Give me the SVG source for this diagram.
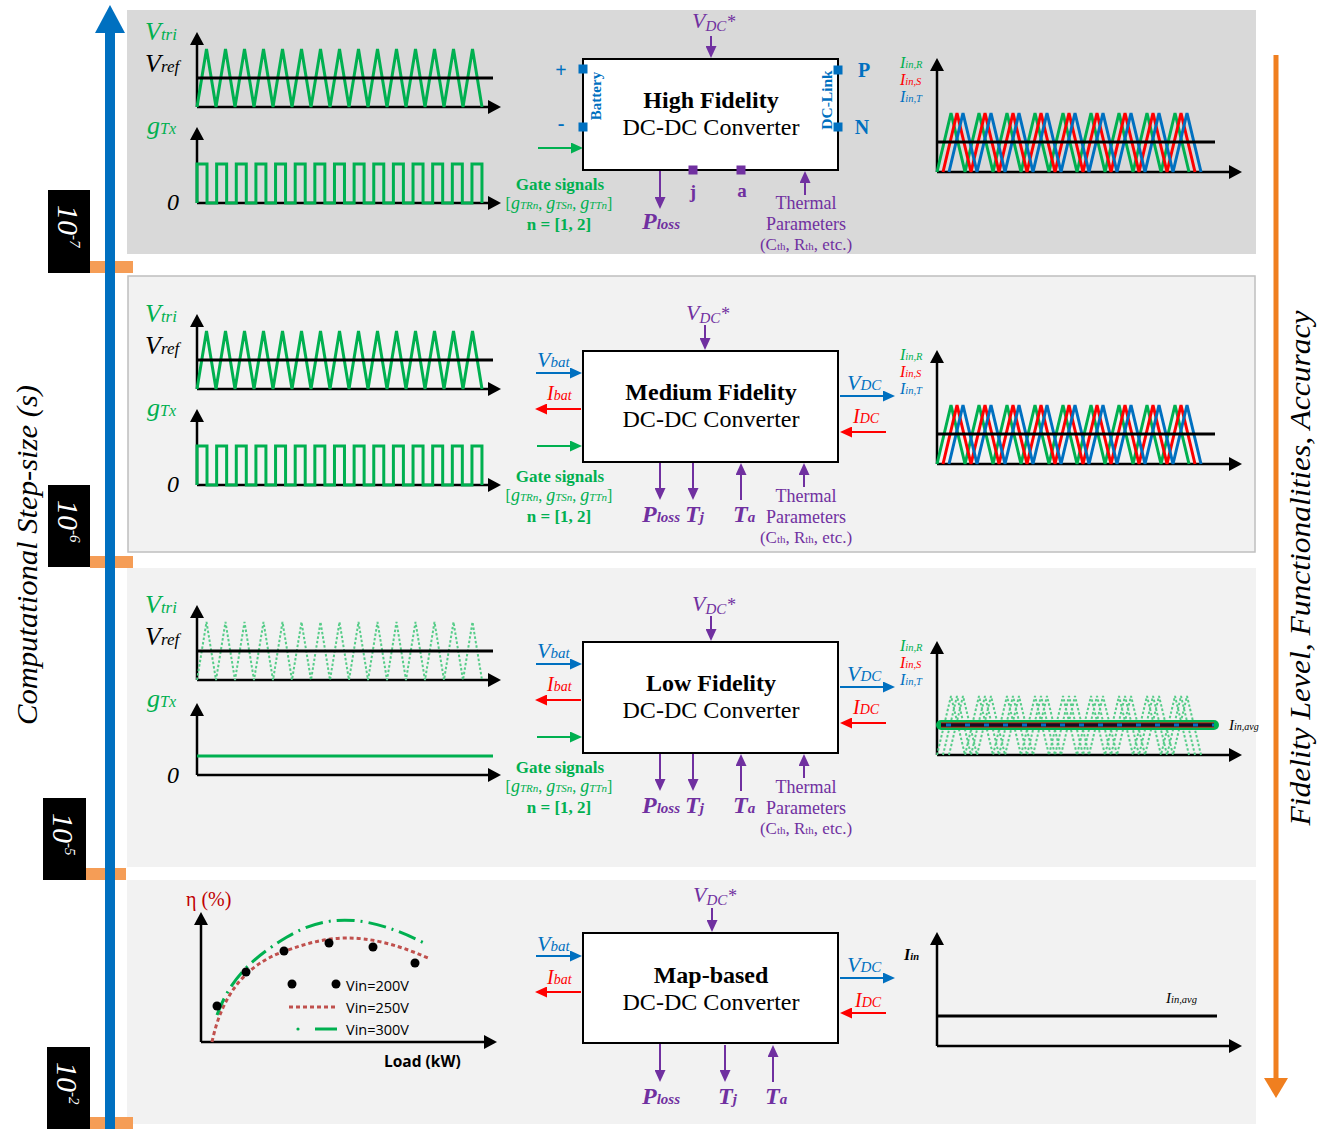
<svg xmlns="http://www.w3.org/2000/svg" width="1329" height="1129" viewBox="0 0 1329 1129">
<defs>
<style>
text{font-family:'Liberation Serif','Times New Roman',serif}
.it{font-style:italic}
.b{font-weight:bold}
.pu{fill:#7030a0}
.bl{fill:#0070c0}
.rd{fill:#ff0000}
.gr{fill:#00b050}
.wt{fill:#ffffff}
.sans{font-family:'Open Sans','Liberation Sans',sans-serif}
.axis{fill:none;stroke:#000;stroke-width:2.5;marker-end:url(#ma)}
.box{fill:#fff;stroke:#000;stroke-width:2}
.cp{fill:none;stroke:#7030a0;stroke-width:2;marker-end:url(#mp)}
.cb{fill:none;stroke:#0070c0;stroke-width:2;marker-end:url(#mb)}
.cr{fill:none;stroke:#ff0000;stroke-width:2;marker-end:url(#mr)}
.cg{fill:none;stroke:#00b050;stroke-width:2;marker-end:url(#mg)}
.wg{fill:none;stroke:#00b050;stroke-width:3}
.wdot{fill:none;stroke:#55cc88;stroke-width:2;stroke-dasharray:2.5 2}
.ref{fill:none;stroke:#000;stroke-width:3}
</style>
<marker id="ma" viewBox="0 0 13 14" markerWidth="13" markerHeight="14" refX="7" refY="7" orient="auto" markerUnits="userSpaceOnUse"><path d="M0,0 L13,7 L0,14 z" fill="#000"/></marker>
<marker id="mp" viewBox="0 0 12 11" markerWidth="12" markerHeight="11" refX="6" refY="5.5" orient="auto" markerUnits="userSpaceOnUse"><path d="M0,0 L12,5.5 L0,11 z" fill="#7030a0"/></marker>
<marker id="mb" viewBox="0 0 12 11" markerWidth="12" markerHeight="11" refX="6" refY="5.5" orient="auto" markerUnits="userSpaceOnUse"><path d="M0,0 L12,5.5 L0,11 z" fill="#0070c0"/></marker>
<marker id="mr" viewBox="0 0 12 11" markerWidth="12" markerHeight="11" refX="6" refY="5.5" orient="auto" markerUnits="userSpaceOnUse"><path d="M0,0 L12,5.5 L0,11 z" fill="#ff0000"/></marker>
<marker id="mg" viewBox="0 0 12 11" markerWidth="12" markerHeight="11" refX="6" refY="5.5" orient="auto" markerUnits="userSpaceOnUse"><path d="M0,0 L12,5.5 L0,11 z" fill="#00b050"/></marker>
<path id="tri" d="M197,107 l9.5,-58 l9.5,58 l9.5,-58 l9.5,58 l9.5,-58 l9.5,58 l9.5,-58 l9.5,58 l9.5,-58 l9.5,58 l9.5,-58 l9.5,58 l9.5,-58 l9.5,58 l9.5,-58 l9.5,58 l9.5,-58 l9.5,58 l9.5,-58 l9.5,58 l9.5,-58 l9.5,58 l9.5,-58 l9.5,58 l9.5,-58 l9.5,58 l9.5,-58 l9.5,58 l9.5,-58 l9.5,58"/>
<path id="gate" d="M197,203 V164 H207 V203 h9.64 v-39 h10 v39 h9.64 v-39 h10 v39 h9.64 v-39 h10 v39 h9.64 v-39 h10 v39 h9.64 v-39 h10 v39 h9.64 v-39 h10 v39 h9.64 v-39 h10 v39 h9.64 v-39 h10 v39 h9.64 v-39 h10 v39 h9.64 v-39 h10 v39 h9.64 v-39 h10 v39 h9.64 v-39 h10 v39 h9.64 v-39 h10 v39 h9.64 v-39 h10 v39"/>
<path id="ph" d="M937,172 l14,-59 l14,59 l14,-59 l14,59 l14,-59 l14,59 l14,-59 l14,59 l14,-59 l14,59 l14,-59 l14,59 l14,-59 l14,59 l14,-59 l14,59 l14,-59 l14,59"/>
</defs>

<rect width="1329" height="1129" fill="#fff"/>

<!-- panels -->
<g id="panels">
<rect x="127" y="10" width="1129" height="244" fill="#d9d9d9"/>
<rect x="128" y="276" width="1127" height="276" fill="#f2f2f2" stroke="#bfbfbf" stroke-width="1.5"/>
<rect x="127" y="568" width="1129" height="299" fill="#f2f2f2"/>
<rect x="127" y="880" width="1129" height="244" fill="#f2f2f2"/>
</g>

<!-- left axis -->
<g id="step-axis">
<rect x="90" y="261" width="43" height="12" fill="#f59d56"/>
<rect x="90" y="556" width="43" height="12" fill="#f59d56"/>
<rect x="86" y="868" width="40" height="12" fill="#f59d56"/>
<rect x="90" y="1117" width="43" height="12" fill="#f59d56"/>
<line x1="110" y1="1129" x2="110" y2="28" stroke="#0070c0" stroke-width="10"/>
<path d="M95,33 L110,5 L125,33 z" fill="#0070c0"/>
<rect x="48" y="190" width="42" height="83" fill="#000"/>
<rect x="48" y="485" width="42" height="82" fill="#000"/>
<rect x="43" y="798" width="43" height="82" fill="#000"/>
<rect x="47" y="1047" width="43" height="82" fill="#000"/>
<text class="it wt" font-size="30" transform="translate(58,205) rotate(90)">10<tspan font-size="15" dy="-12">-7</tspan></text>
<text class="it wt" font-size="30" transform="translate(58,500) rotate(90)">10<tspan font-size="15" dy="-12">-6</tspan></text>
<text class="it wt" font-size="30" transform="translate(53,813) rotate(90)">10<tspan font-size="15" dy="-12">-5</tspan></text>
<text class="it wt" font-size="30" transform="translate(57,1062) rotate(90)">10<tspan font-size="15" dy="-12">-2</tspan></text>
<text class="it" font-size="30" text-anchor="middle" textLength="340" lengthAdjust="spacingAndGlyphs" transform="translate(37,555) rotate(-90)">Computational Step-size (s)</text>
</g>

<!-- right axis -->
<g id="fidelity-axis">
<line x1="1276" y1="55" x2="1276" y2="1082" stroke="#f07f1f" stroke-width="5"/>
<path d="M1264,1078 L1276,1098 L1288,1078 z" fill="#f07f1f"/>
<text class="it" font-size="30" text-anchor="middle" textLength="515" lengthAdjust="spacingAndGlyphs" transform="translate(1310,568) rotate(-90)">Fidelity Level, Functionalities, Accuracy</text>
</g>

<!-- left waveforms -->
<g id="pwm-high">
<path class="axis" d="M197,107 H495"/>
<path class="axis" d="M197,107 V38"/>
<use href="#tri" class="wg"/>
<line class="ref" x1="197" y1="78" x2="493" y2="78"/>
<path class="axis" d="M197,203 H495"/>
<path class="axis" d="M197,203 V133"/>
<use href="#gate" class="wg"/>
<text x="145" y="40" class="it gr" font-size="26">V<tspan font-size="17">tri</tspan></text>
<text x="145" y="72" class="it" font-size="26">V<tspan font-size="17">ref</tspan></text>
<text x="147" y="134" class="it gr" font-size="26">g<tspan font-size="16">Tx</tspan></text>
<text x="167" y="210" class="it" font-size="24">0</text>
</g>
<g id="pwm-medium" transform="translate(0,282)">
<path class="axis" d="M197,107 H495"/>
<path class="axis" d="M197,107 V38"/>
<use href="#tri" class="wg"/>
<line class="ref" x1="197" y1="78" x2="493" y2="78"/>
<path class="axis" d="M197,203 H495"/>
<path class="axis" d="M197,203 V133"/>
<use href="#gate" class="wg"/>
<text x="145" y="40" class="it gr" font-size="26">V<tspan font-size="17">tri</tspan></text>
<text x="145" y="72" class="it" font-size="26">V<tspan font-size="17">ref</tspan></text>
<text x="147" y="134" class="it gr" font-size="26">g<tspan font-size="16">Tx</tspan></text>
<text x="167" y="210" class="it" font-size="24">0</text>
</g>
<g id="pwm-low" transform="translate(0,573)">
<path class="axis" d="M197,107 H495"/>
<path class="axis" d="M197,107 V38"/>
<use href="#tri" class="wdot"/>
<line class="ref" x1="197" y1="78" x2="493" y2="78"/>
<path class="axis" d="M197,202 H495"/>
<path class="axis" d="M197,202 V136"/>
<line x1="197" y1="183" x2="493" y2="183" stroke="#00b050" stroke-width="3"/>
<text x="145" y="40" class="it gr" font-size="26">V<tspan font-size="17">tri</tspan></text>
<text x="145" y="72" class="it" font-size="26">V<tspan font-size="17">ref</tspan></text>
<text x="147" y="134" class="it gr" font-size="26">g<tspan font-size="16">Tx</tspan></text>
<text x="167" y="210" class="it" font-size="24">0</text>
</g>

<!-- efficiency map -->
<g id="efficiency-map">
<path class="axis" d="M201,1042 V918"/>
<path class="axis" d="M201,1042 H491"/>
<path d="M212,1042 C222,995 245,965 285,951 S360,928 428,958" fill="none" stroke="#c0504d" stroke-width="3" stroke-dasharray="4 3"/>
<path d="M217,1015 C228,985 245,962 287,937 S370,915 428,945" fill="none" stroke="#00b050" stroke-width="3" stroke-dasharray="18 6 2 6"/>
<g fill="#000">
<circle cx="217" cy="1006" r="4.5"/><circle cx="246" cy="972" r="4.5"/><circle cx="284" cy="951" r="4.5"/>
<circle cx="329" cy="943" r="4.5"/><circle cx="373" cy="947" r="4.5"/><circle cx="415" cy="963" r="4.5"/>
<circle cx="292" cy="984" r="4.5"/><circle cx="336" cy="984" r="4.5"/>
</g>
<line x1="289" y1="1007" x2="338" y2="1007" stroke="#c0504d" stroke-width="3" stroke-dasharray="4 3"/>
<circle cx="298" cy="1029" r="1.6" fill="#00b050"/>
<line x1="315" y1="1029" x2="337" y2="1029" stroke="#00b050" stroke-width="3"/>
<text x="346" y="991" class="sans" font-size="14.5">Vin=200V</text>
<text x="346" y="1013" class="sans" font-size="14.5">Vin=250V</text>
<text x="346" y="1035" class="sans" font-size="14.5">Vin=300V</text>
<text x="384" y="1067" class="sans b" font-size="15.5">Load (kW)</text>
<text x="186" y="906" font-size="20" fill="#c00000">η (%)</text>
</g>

<!-- right waveforms -->
<g id="iin-high">
<path class="axis" d="M937,172 V64"/>
<path class="axis" d="M937,172 H1236"/>
<use href="#ph" class="wg"/>
<use href="#ph" class="wg" style="stroke:#ff0000" transform="translate(6,0)"/>
<use href="#ph" class="wg" style="stroke:#0070c0" transform="translate(12,0)"/>
<line class="ref" x1="937" y1="142" x2="1215" y2="142"/>
<text x="900" y="68" class="it gr" font-size="16">I<tspan font-size="10.5">in,R</tspan></text>
<text x="900" y="85" class="it rd" font-size="16">I<tspan font-size="10.5">in,S</tspan></text>
<text x="900" y="102" class="it bl" font-size="16">I<tspan font-size="10.5">in,T</tspan></text>
</g>
<g id="iin-medium" transform="translate(0,292)">
<path class="axis" d="M937,172 V64"/>
<path class="axis" d="M937,172 H1236"/>
<use href="#ph" class="wg"/>
<use href="#ph" class="wg" style="stroke:#ff0000" transform="translate(6,0)"/>
<use href="#ph" class="wg" style="stroke:#0070c0" transform="translate(12,0)"/>
<line class="ref" x1="937" y1="142" x2="1215" y2="142"/>
<text x="900" y="68" class="it gr" font-size="16">I<tspan font-size="10.5">in,R</tspan></text>
<text x="900" y="85" class="it rd" font-size="16">I<tspan font-size="10.5">in,S</tspan></text>
<text x="900" y="102" class="it bl" font-size="16">I<tspan font-size="10.5">in,T</tspan></text>
</g>
<g id="iin-low" transform="translate(0,583)">
<path class="axis" d="M937,172 V64"/>
<path class="axis" d="M937,172 H1236"/>
<use href="#ph" class="wdot"/>
<use href="#ph" class="wdot" transform="translate(6,0)"/>
<use href="#ph" class="wdot" transform="translate(12,0)"/>
<line x1="941" y1="142" x2="1214" y2="142" stroke="#00b050" stroke-width="10" stroke-linecap="round"/>
<line x1="941" y1="142" x2="1214" y2="142" stroke="#ff0000" stroke-width="5"/>
<line x1="941" y1="142" x2="1214" y2="142" stroke="#111122" stroke-width="3.5"/>
<line x1="946" y1="142" x2="1214" y2="142" stroke="#0070c0" stroke-width="3" stroke-dasharray="5 14"/>
<text x="900" y="68" class="it gr" font-size="16">I<tspan font-size="10.5">in,R</tspan></text>
<text x="900" y="85" class="it rd" font-size="16">I<tspan font-size="10.5">in,S</tspan></text>
<text x="900" y="102" class="it bl" font-size="16">I<tspan font-size="10.5">in,T</tspan></text>
<text x="1229" y="147" class="it" font-size="15">I<tspan font-size="10">in,avg</tspan></text>
</g>
<g id="iin-map">
<path class="axis" d="M937,1046 V938"/>
<path class="axis" d="M937,1046 H1236"/>
<line class="ref" x1="937" y1="1016" x2="1217" y2="1016"/>
<text x="904" y="960" class="it b" font-size="16">I<tspan font-size="10.5">in</tspan></text>
<text x="1166" y="1003" class="it" font-size="15">I<tspan font-size="10.5">in,avg</tspan></text>
</g>

<!-- connectors -->
<g id="connectors">
<path class="cp" d="M711,36 V52"/>
<path class="cg" d="M538,148 H577"/>
<path class="cp" d="M660,171 V203"/>
<path class="cp" d="M805,195 V177"/>

<path class="cp" d="M705,325 V344"/>
<path class="cb" d="M536,373 H576"/>
<path class="cr" d="M581,409 H541"/>
<path class="cg" d="M537,446 H576"/>
<path class="cb" d="M840,396 H889"/>
<path class="cr" d="M886,432 H846"/>
<path class="cp" d="M660,463 V494"/>
<path class="cp" d="M693,463 V494"/>
<path class="cp" d="M741,500 V469"/>
<path class="cp" d="M804,487 V469"/>

<path class="cp" d="M711,616 V635"/>
<path class="cb" d="M536,664 H576"/>
<path class="cr" d="M581,700 H541"/>
<path class="cg" d="M537,737 H576"/>
<path class="cb" d="M840,687 H889"/>
<path class="cr" d="M886,723 H846"/>
<path class="cp" d="M660,754 V785"/>
<path class="cp" d="M693,754 V785"/>
<path class="cp" d="M741,791 V760"/>
<path class="cp" d="M804,778 V760"/>

<path class="cp" d="M712,908 V926"/>
<path class="cb" d="M536,956 H576"/>
<path class="cr" d="M581,992 H541"/>
<path class="cb" d="M840,978 H889"/>
<path class="cr" d="M886,1013 H846"/>
<path class="cp" d="M660,1044 V1076"/>
<path class="cp" d="M725,1045 V1076"/>
<path class="cp" d="M773,1082 V1051"/>
</g>

<!-- High fidelity block -->
<g id="block-high">
<rect class="box" x="583" y="59" width="255" height="111"/>
<g fill="#0070c0">
<rect x="578.5" y="64.5" width="9" height="9"/><rect x="578.5" y="122.5" width="9" height="9"/>
<rect x="833.5" y="65.5" width="9" height="9"/><rect x="833.5" y="122.5" width="9" height="9"/>
</g>
<g fill="#7030a0"><rect x="688.5" y="165.5" width="9" height="9"/><rect x="736.5" y="165.5" width="9" height="9"/></g>
<text x="561" y="77" class="b bl" font-size="20" text-anchor="middle">+</text>
<text x="561" y="130" class="b bl" font-size="20" text-anchor="middle">-</text>
<text x="864" y="77" class="b bl" font-size="20" text-anchor="middle">P</text>
<text x="862" y="134" class="b bl" font-size="20" text-anchor="middle">N</text>
<text class="b bl" font-size="15" text-anchor="middle" transform="translate(601,96) rotate(-90)">Battery</text>
<text class="b bl" font-size="15.5" text-anchor="middle" transform="translate(832,100) rotate(-90)">DC-Link</text>
<text x="711" y="108" class="b" font-size="24" text-anchor="middle">High Fidelity</text>
<text x="711" y="135" font-size="24" text-anchor="middle" textLength="177" lengthAdjust="spacingAndGlyphs">DC-DC Converter</text>
<text x="692" y="28" class="it pu" font-size="22">V<tspan font-size="15" dy="3">DC</tspan><tspan font-size="18" dy="-3">*</tspan></text>
<text x="560" y="190" class="b gr" font-size="17" text-anchor="middle">Gate signals</text>
<text x="559" y="209" class="gr" font-size="16" text-anchor="middle">[<tspan class="it" font-size="18">g</tspan><tspan class="it" font-size="11">TRn</tspan>, <tspan class="it" font-size="18">g</tspan><tspan class="it" font-size="11">TSn</tspan>, <tspan class="it" font-size="18">g</tspan><tspan class="it" font-size="11">TTn</tspan>]</text>
<text x="559" y="230" class="b gr" font-size="17" text-anchor="middle">n = [1, 2]</text>
<text x="693" y="198" class="b pu" font-size="19" text-anchor="middle">j</text>
<text x="742" y="197" class="b pu" font-size="19" text-anchor="middle">a</text>
<text x="642" y="229" class="b it pu" font-size="24">P<tspan font-size="15">loss</tspan></text>
<text x="806" y="209" class="pu" font-size="18" text-anchor="middle">Thermal</text>
<text x="806" y="230" class="pu" font-size="18" text-anchor="middle">Parameters</text>
<text x="806" y="250" class="pu" font-size="17" text-anchor="middle">(C<tspan font-size="11">th</tspan>, R<tspan font-size="11">th</tspan>, etc.)</text>
</g>

<!-- Medium fidelity block -->
<g id="block-medium">
<rect class="box" x="583" y="351" width="255" height="111"/>
<text x="711" y="400" class="b" font-size="24" text-anchor="middle">Medium Fidelity</text>
<text x="711" y="427" font-size="24" text-anchor="middle" textLength="177" lengthAdjust="spacingAndGlyphs">DC-DC Converter</text>
<text x="686" y="320" class="it pu" font-size="22">V<tspan font-size="15" dy="3">DC</tspan><tspan font-size="18" dy="-3">*</tspan></text>
<text x="537" y="367" class="it bl" font-size="22">V<tspan font-size="15">bat</tspan></text>
<text x="547" y="400" class="it rd" font-size="20">I<tspan font-size="14">bat</tspan></text>
<text x="847" y="390" class="it bl" font-size="22">V<tspan font-size="15">DC</tspan></text>
<text x="853" y="423" class="it rd" font-size="20">I<tspan font-size="14">DC</tspan></text>
<text x="560" y="482" class="b gr" font-size="17" text-anchor="middle">Gate signals</text>
<text x="559" y="501" class="gr" font-size="16" text-anchor="middle">[<tspan class="it" font-size="18">g</tspan><tspan class="it" font-size="11">TRn</tspan>, <tspan class="it" font-size="18">g</tspan><tspan class="it" font-size="11">TSn</tspan>, <tspan class="it" font-size="18">g</tspan><tspan class="it" font-size="11">TTn</tspan>]</text>
<text x="559" y="522" class="b gr" font-size="17" text-anchor="middle">n = [1, 2]</text>
<text x="642" y="522" class="b it pu" font-size="24">P<tspan font-size="15">loss</tspan></text>
<text x="685" y="522" class="b it pu" font-size="24">T<tspan font-size="15">j</tspan></text>
<text x="733" y="522" class="b it pu" font-size="24">T<tspan font-size="15">a</tspan></text>
<text x="806" y="502" class="pu" font-size="18" text-anchor="middle">Thermal</text>
<text x="806" y="523" class="pu" font-size="18" text-anchor="middle">Parameters</text>
<text x="806" y="543" class="pu" font-size="17" text-anchor="middle">(C<tspan font-size="11">th</tspan>, R<tspan font-size="11">th</tspan>, etc.)</text>
</g>

<!-- Low fidelity block -->
<g id="block-low">
<rect class="box" x="583" y="642" width="255" height="111"/>
<text x="711" y="691" class="b" font-size="24" text-anchor="middle">Low Fidelity</text>
<text x="711" y="718" font-size="24" text-anchor="middle" textLength="177" lengthAdjust="spacingAndGlyphs">DC-DC Converter</text>
<text x="692" y="611" class="it pu" font-size="22">V<tspan font-size="15" dy="3">DC</tspan><tspan font-size="18" dy="-3">*</tspan></text>
<text x="537" y="658" class="it bl" font-size="22">V<tspan font-size="15">bat</tspan></text>
<text x="547" y="691" class="it rd" font-size="20">I<tspan font-size="14">bat</tspan></text>
<text x="847" y="681" class="it bl" font-size="22">V<tspan font-size="15">DC</tspan></text>
<text x="853" y="714" class="it rd" font-size="20">I<tspan font-size="14">DC</tspan></text>
<text x="560" y="773" class="b gr" font-size="17" text-anchor="middle">Gate signals</text>
<text x="559" y="792" class="gr" font-size="16" text-anchor="middle">[<tspan class="it" font-size="18">g</tspan><tspan class="it" font-size="11">TRn</tspan>, <tspan class="it" font-size="18">g</tspan><tspan class="it" font-size="11">TSn</tspan>, <tspan class="it" font-size="18">g</tspan><tspan class="it" font-size="11">TTn</tspan>]</text>
<text x="559" y="813" class="b gr" font-size="17" text-anchor="middle">n = [1, 2]</text>
<text x="642" y="813" class="b it pu" font-size="24">P<tspan font-size="15">loss</tspan></text>
<text x="685" y="813" class="b it pu" font-size="24">T<tspan font-size="15">j</tspan></text>
<text x="733" y="813" class="b it pu" font-size="24">T<tspan font-size="15">a</tspan></text>
<text x="806" y="793" class="pu" font-size="18" text-anchor="middle">Thermal</text>
<text x="806" y="814" class="pu" font-size="18" text-anchor="middle">Parameters</text>
<text x="806" y="834" class="pu" font-size="17" text-anchor="middle">(C<tspan font-size="11">th</tspan>, R<tspan font-size="11">th</tspan>, etc.)</text>
</g>

<!-- Map-based block -->
<g id="block-map">
<rect class="box" x="583" y="933" width="255" height="110"/>
<text x="711" y="983" class="b" font-size="24" text-anchor="middle">Map-based</text>
<text x="711" y="1010" font-size="24" text-anchor="middle" textLength="177" lengthAdjust="spacingAndGlyphs">DC-DC Converter</text>
<text x="693" y="902" class="it pu" font-size="22">V<tspan font-size="15" dy="3">DC</tspan><tspan font-size="18" dy="-3">*</tspan></text>
<text x="537" y="951" class="it bl" font-size="22">V<tspan font-size="15">bat</tspan></text>
<text x="547" y="984" class="it rd" font-size="20">I<tspan font-size="14">bat</tspan></text>
<text x="847" y="972" class="it bl" font-size="22">V<tspan font-size="15">DC</tspan></text>
<text x="855" y="1007" class="it rd" font-size="20">I<tspan font-size="14">DC</tspan></text>
<text x="642" y="1104" class="b it pu" font-size="24">P<tspan font-size="15">loss</tspan></text>
<text x="718" y="1104" class="b it pu" font-size="24">T<tspan font-size="15">j</tspan></text>
<text x="765" y="1104" class="b it pu" font-size="24">T<tspan font-size="15">a</tspan></text>
</g>
</svg>
